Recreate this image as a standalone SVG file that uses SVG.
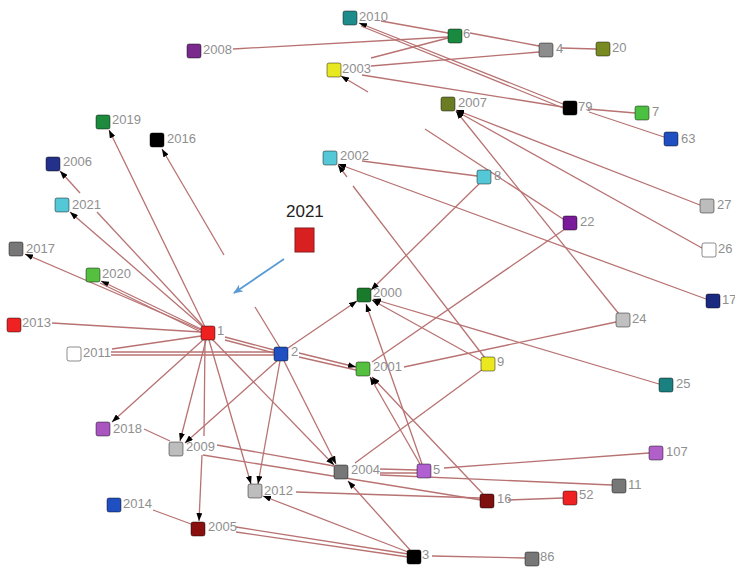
<svg xmlns="http://www.w3.org/2000/svg" width="735" height="568" viewBox="0 0 735 568">
<style>
.e{stroke:#b87272;stroke-width:1.3;fill:none}
.a{marker-end:url(#ah)}
.n{stroke:rgba(0,0,0,0.45);stroke-width:1}
.l{font-family:"Liberation Sans",Arial,sans-serif;font-size:13px;fill:#8f8f8f}
.lg{font-family:"Liberation Sans",Arial,sans-serif;font-size:17px;fill:#222}
</style>
<defs>
<marker id="ah" markerUnits="userSpaceOnUse" markerWidth="8" markerHeight="6" refX="8" refY="3" orient="auto"><path d="M0,0 L8,3 L0,6 z" fill="#000"/></marker>
<marker id="bh" markerUnits="userSpaceOnUse" markerWidth="10" markerHeight="8" refX="9" refY="4" orient="auto"><path d="M0,0 L10,4 L0,8 L3,4 z" fill="#5b9bd5"/></marker>
</defs>
<rect width="735" height="568" fill="#fff"/>
<g id="edges">
<line class="e" x1="233" y1="49" x2="448" y2="37"/>
<line class="e" x1="381" y1="21" x2="448" y2="33"/>
<line class="e a" x1="563" y1="104" x2="359" y2="23"/>
<line class="e" x1="563" y1="108" x2="361" y2="26"/>
<line class="e" x1="470" y1="33" x2="539" y2="46"/>
<line class="e" x1="561" y1="48" x2="596" y2="49"/>
<line class="e" x1="371" y1="58" x2="448" y2="38"/>
<line class="e" x1="371" y1="66" x2="539" y2="52"/>
<line class="e" x1="362" y1="75" x2="563" y2="107"/>
<line class="e a" x1="368" y1="92" x2="341" y2="76"/>
<line class="e" x1="588" y1="109" x2="635" y2="113"/>
<line class="e" x1="589" y1="112" x2="664" y2="137"/>
<line class="e a" x1="700" y1="205" x2="456" y2="110"/>
<line class="e a" x1="702" y1="248" x2="456" y2="111"/>
<line class="e a" x1="619" y1="314" x2="456" y2="111"/>
<line class="e" x1="563" y1="219" x2="425" y2="129"/>
<line class="e" x1="477" y1="176" x2="362" y2="161"/>
<line class="e a" x1="706" y1="299" x2="338" y2="164"/>
<line class="e" x1="485" y1="358" x2="353" y2="186"/>
<line class="e a" x1="347" y1="177" x2="338" y2="165"/>
<line class="e a" x1="479" y1="184" x2="371" y2="290"/>
<line class="e" x1="565" y1="229" x2="372" y2="362"/>
<line class="e" x1="616" y1="322" x2="404" y2="367"/>
<line class="e a" x1="659" y1="384" x2="373" y2="299"/>
<line class="e a" x1="482" y1="361" x2="372" y2="300"/>
<line class="e a" x1="422" y1="464" x2="366" y2="304"/>
<line class="e a" x1="420" y1="464" x2="370" y2="377"/>
<line class="e a" x1="483" y1="494" x2="372" y2="377"/>
<line class="e a" x1="288" y1="348" x2="357" y2="301"/>
<line class="e a" x1="299" y1="353" x2="356" y2="367"/>
<line class="e" x1="299" y1="357" x2="356" y2="370"/>
<line class="e" x1="225" y1="337" x2="274" y2="350"/>
<line class="e" x1="225" y1="340" x2="274" y2="353"/>
<line class="e" x1="111" y1="352" x2="274" y2="352"/>
<line class="e" x1="111" y1="355" x2="274" y2="355"/>
<line class="e" x1="112" y1="349" x2="201" y2="336"/>
<line class="e" x1="52" y1="323" x2="201" y2="332"/>
<line class="e a" x1="201" y1="330" x2="25" y2="254"/>
<line class="e a" x1="201" y1="329" x2="101" y2="281"/>
<line class="e" x1="201" y1="332" x2="100" y2="283"/>
<line class="e a" x1="203" y1="327" x2="70" y2="212"/>
<line class="e" x1="203" y1="326" x2="97" y2="212"/>
<line class="e a" x1="80" y1="193" x2="60" y2="171"/>
<line class="e a" x1="205" y1="327" x2="109" y2="130"/>
<line class="e" x1="280" y1="348" x2="255" y2="307"/>
<line class="e a" x1="224" y1="255" x2="162" y2="149"/>
<line class="e a" x1="204" y1="339" x2="112" y2="422"/>
<line class="e a" x1="206" y1="340" x2="180" y2="441"/>
<line class="e" x1="205" y1="340" x2="204" y2="436"/>
<line class="e a" x1="202" y1="455" x2="199" y2="521"/>
<line class="e a" x1="278" y1="360" x2="185" y2="443"/>
<line class="e a" x1="209" y1="340" x2="251" y2="484"/>
<line class="e a" x1="280" y1="361" x2="258" y2="484"/>
<line class="e a" x1="212" y1="339" x2="334" y2="465"/>
<line class="e a" x1="284" y1="361" x2="336" y2="464"/>
<line class="e" x1="144" y1="429" x2="170" y2="441"/>
<line class="e" x1="217" y1="445" x2="334" y2="466"/>
<line class="e" x1="203" y1="455" x2="481" y2="500"/>
<line class="e" x1="380" y1="475" x2="612" y2="485"/>
<line class="e" x1="380" y1="469" x2="417" y2="470"/>
<line class="e" x1="380" y1="473" x2="417" y2="473"/>
<line class="e" x1="444" y1="468" x2="649" y2="453"/>
<line class="e" x1="483" y1="369" x2="355" y2="463"/>
<line class="e a" x1="410" y1="550" x2="348" y2="481"/>
<line class="e" x1="296" y1="492" x2="480" y2="498"/>
<line class="e" x1="508" y1="500" x2="563" y2="498"/>
<line class="e a" x1="408" y1="552" x2="263" y2="496"/>
<line class="e" x1="408" y1="554" x2="236" y2="527"/>
<line class="e" x1="408" y1="557" x2="236" y2="532"/>
<line class="e" x1="432" y1="556" x2="525" y2="558"/>
<line class="e" x1="153" y1="510" x2="191" y2="524"/>
<line x1="284" y1="259" x2="234" y2="293" stroke="#5b9bd5" stroke-width="1.8" marker-end="url(#bh)"/>
</g>
<g id="legend"><text class="lg" x="286" y="217">2021</text><rect x="295" y="228" width="19" height="24" fill="#d92020" stroke="#8a1a1a" stroke-width="1"/></g>
<g id="n2010"><rect class="n" x="343" y="11" width="14" height="14" rx="2" fill="#1f8c8c"/><text class="l" x="359" y="21">2010</text></g>
<g id="n6"><rect class="n" x="448" y="29" width="14" height="14" rx="2" fill="#1a8a40"/><text class="l" x="463" y="38">6</text></g>
<g id="n2008"><rect class="n" x="187" y="44" width="14" height="14" rx="2" fill="#7a2a8c"/><text class="l" x="203" y="54">2008</text></g>
<g id="n4"><rect class="n" x="539" y="43" width="14" height="14" rx="2" fill="#8c8c8c"/><text class="l" x="556" y="53">4</text></g>
<g id="n20"><rect class="n" x="596" y="42" width="14" height="14" rx="2" fill="#7a8a22"/><text class="l" x="612" y="52">20</text></g>
<g id="n2003"><rect class="n" x="327" y="63" width="14" height="14" rx="2" fill="#e8e820"/><text class="l" x="342" y="73">2003</text></g>
<g id="n2007"><rect class="n" x="441" y="97" width="14" height="14" rx="2" fill="#6b7d22"/><text class="l" x="458" y="107">2007</text></g>
<g id="n79"><rect class="n" x="563" y="101" width="14" height="14" rx="2" fill="#000"/><text class="l" x="578" y="111">79</text></g>
<g id="n7"><rect class="n" x="635" y="106" width="14" height="14" rx="2" fill="#4cc040"/><text class="l" x="652" y="116">7</text></g>
<g id="n63"><rect class="n" x="664" y="132" width="14" height="14" rx="2" fill="#1f4fc0"/><text class="l" x="681" y="143">63</text></g>
<g id="n2019"><rect class="n" x="96" y="115" width="14" height="14" rx="2" fill="#1e8a3e"/><text class="l" x="112" y="124">2019</text></g>
<g id="n2016"><rect class="n" x="150" y="133" width="14" height="14" rx="2" fill="#000"/><text class="l" x="167" y="143">2016</text></g>
<g id="n2006"><rect class="n" x="46" y="157" width="14" height="14" rx="2" fill="#23318a"/><text class="l" x="63" y="166">2006</text></g>
<g id="n2002"><rect class="n" x="323" y="151" width="14" height="14" rx="2" fill="#55c8d8"/><text class="l" x="340" y="160">2002</text></g>
<g id="n8"><rect class="n" x="477" y="170" width="14" height="14" rx="2" fill="#55c8d8"/><text class="l" x="494" y="180">8</text></g>
<g id="n2021"><rect class="n" x="55" y="198" width="14" height="14" rx="2" fill="#55c8d8"/><text class="l" x="72" y="209">2021</text></g>
<g id="n27"><rect class="n" x="700" y="199" width="14" height="14" rx="2" fill="#bcbcbc"/><text class="l" x="717" y="209">27</text></g>
<g id="n22"><rect class="n" x="563" y="216" width="14" height="14" rx="2" fill="#7a1a9a"/><text class="l" x="580" y="226">22</text></g>
<g id="n2017"><rect class="n" x="9" y="242" width="14" height="14" rx="2" fill="#777"/><text class="l" x="26" y="253">2017</text></g>
<g id="n26"><rect class="n" x="702" y="243" width="14" height="14" rx="2" fill="#fff"/><text class="l" x="718" y="253">26</text></g>
<g id="n2020"><rect class="n" x="86" y="268" width="14" height="14" rx="2" fill="#55c040"/><text class="l" x="102" y="278">2020</text></g>
<g id="n2000"><rect class="n" x="357" y="288" width="14" height="14" rx="2" fill="#1a7a2c"/><text class="l" x="373" y="297">2000</text></g>
<g id="n17"><rect class="n" x="706" y="294" width="14" height="14" rx="2" fill="#1a2a80"/><text class="l" x="722" y="304">17</text></g>
<g id="n24"><rect class="n" x="616" y="313" width="14" height="14" rx="2" fill="#c0c0c0"/><text class="l" x="632" y="323">24</text></g>
<g id="n2013"><rect class="n" x="7" y="318" width="14" height="14" rx="2" fill="#ee2222"/><text class="l" x="22" y="327">2013</text></g>
<g id="n1"><rect class="n" x="201" y="326" width="14" height="14" rx="2" fill="#ee2020"/><text class="l" x="217" y="335">1</text></g>
<g id="n2011"><rect class="n" x="67" y="347" width="14" height="14" rx="2" fill="#fff"/><text class="l" x="83" y="357">2011</text></g>
<g id="n2"><rect class="n" x="274" y="347" width="14" height="14" rx="2" fill="#1f4fc0"/><text class="l" x="291" y="356">2</text></g>
<g id="n2001"><rect class="n" x="356" y="362" width="14" height="14" rx="2" fill="#55c040"/><text class="l" x="373" y="371">2001</text></g>
<g id="n9"><rect class="n" x="481" y="357" width="14" height="14" rx="2" fill="#ece820"/><text class="l" x="497" y="366">9</text></g>
<g id="n25"><rect class="n" x="659" y="378" width="14" height="14" rx="2" fill="#1a8080"/><text class="l" x="676" y="388">25</text></g>
<g id="n2018"><rect class="n" x="96" y="422" width="14" height="14" rx="2" fill="#a855c0"/><text class="l" x="113" y="433">2018</text></g>
<g id="n2009"><rect class="n" x="169" y="442" width="14" height="14" rx="2" fill="#bdbdbd"/><text class="l" x="186" y="451">2009</text></g>
<g id="n107"><rect class="n" x="649" y="446" width="14" height="14" rx="2" fill="#b060c8"/><text class="l" x="666" y="456">107</text></g>
<g id="n2004"><rect class="n" x="334" y="465" width="14" height="14" rx="2" fill="#777"/><text class="l" x="351" y="474">2004</text></g>
<g id="n5"><rect class="n" x="417" y="464" width="14" height="14" rx="2" fill="#b060d0"/><text class="l" x="433" y="474">5</text></g>
<g id="n11"><rect class="n" x="612" y="479" width="14" height="14" rx="2" fill="#777"/><text class="l" x="628" y="489">11</text></g>
<g id="n2012"><rect class="n" x="248" y="484" width="14" height="14" rx="2" fill="#bdbdbd"/><text class="l" x="264" y="495">2012</text></g>
<g id="n16"><rect class="n" x="480" y="494" width="14" height="14" rx="2" fill="#7e1010"/><text class="l" x="497" y="503">16</text></g>
<g id="n52"><rect class="n" x="563" y="491" width="14" height="14" rx="2" fill="#ee2222"/><text class="l" x="579" y="499">52</text></g>
<g id="n2014"><rect class="n" x="107" y="498" width="14" height="14" rx="2" fill="#1f4fc0"/><text class="l" x="123" y="508">2014</text></g>
<g id="n2005"><rect class="n" x="191" y="522" width="14" height="14" rx="2" fill="#8a1010"/><text class="l" x="208" y="531">2005</text></g>
<g id="n3"><rect class="n" x="407" y="550" width="14" height="14" rx="2" fill="#000"/><text class="l" x="422" y="559">3</text></g>
<g id="n86"><rect class="n" x="525" y="552" width="14" height="14" rx="2" fill="#777"/><text class="l" x="540" y="561">86</text></g>
</svg>
